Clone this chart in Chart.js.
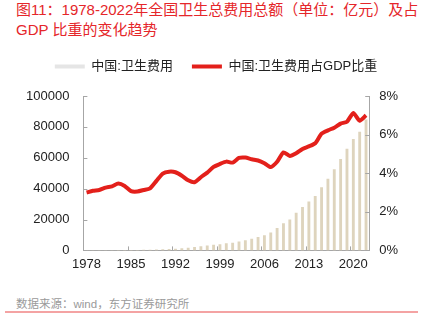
<!DOCTYPE html>
<html>
<head>
<meta charset="utf-8">
<script src="https://cdn.jsdelivr.net/npm/chart.js@4"></script>
<style>
  body { margin: 0; width: 427px; height: 328px; background: #fff; position: relative; overflow: hidden;
         font-family: "Liberation Sans", "Noto Sans CJK SC", sans-serif; }
  #title { position: absolute; left: 16px; top: 0px; color: #e5262a; font-size: 15px; line-height: 20px; white-space: nowrap; }
  #wrap { position: absolute; left: 0; top: 41px; width: 427px; height: 237px; }
  #source { position: absolute; left: 16px; top: 295px; color: #9a9a9a; font-size: 11.5px; white-space: nowrap; }
  #rule { position: absolute; left: 5px; top: 311px; width: 413px; height: 2px; background: #f4a3a3; }
</style>
</head>
<body>
<div id="title">图11：1978-2022年全国卫生总费用总额（单位：亿元）及占<br>GDP 比重的变化趋势</div>
<div id="wrap"><canvas id="chart"></canvas></div>
<div id="source">数据来源：wind，东方证券研究所</div>
<div id="rule"></div>
<script>
// 年份
const years = [];
for (let y = 1978; y <= 2022; y++) years.push(String(y));

// 卫生总费用（亿元）
const healthSpend = [
  110, 126, 143, 160, 178, 207, 242, 279, 316, 380,
  488, 616, 747, 893, 1097, 1378, 1761, 2155, 2709, 3197,
  3679, 4048, 4587, 5026, 5790, 6584, 7590, 8660, 9843, 11574,
  14535, 17542, 19980, 24346, 28119, 31669, 35312, 40975, 46345, 52598,
  59122, 65841, 72175, 76845, 84847
];

// 卫生费用占GDP比重（%）
const gdpShare = [
  3.00, 3.09, 3.13, 3.25, 3.32, 3.46, 3.34, 3.07, 3.05, 3.13,
  3.22, 3.60, 3.98, 4.08, 4.05, 3.87, 3.63, 3.53, 3.79, 4.03,
  4.33, 4.48, 4.60, 4.55, 4.79, 4.81, 4.72, 4.66, 4.52, 4.32,
  4.59, 5.08, 4.89, 5.03, 5.26, 5.39, 5.55, 6.05, 6.22, 6.36,
  6.57, 6.67, 7.12, 6.72, 7.00
];

const leftTicks = [0, 20000, 40000, 60000, 80000, 100000];
const rightTicks = [0, 2, 4, 6, 8];

const axisColor = '#a6a6a6';
const tickFont = { family: '"Liberation Sans", sans-serif', size: 13 };

// 刻度线画在坐标轴内侧
const innerTicks = {
  id: 'innerTicks',
  afterDatasetsDraw(chart) {
    const { ctx, chartArea, scales } = chart;
    ctx.save();
    ctx.strokeStyle = axisColor;
    ctx.lineWidth = 1;
    ctx.beginPath();
    leftTicks.forEach(v => {
      const y = Math.round(scales.y.getPixelForValue(v)) + 0.5;
      ctx.moveTo(chartArea.left, y); ctx.lineTo(chartArea.left + 4, y);
    });
    rightTicks.forEach(v => {
      const y = Math.round(scales.y1.getPixelForValue(v)) + 0.5;
      ctx.moveTo(chartArea.right, y); ctx.lineTo(chartArea.right - 4, y);
    });
    const step = (chartArea.right - chartArea.left) / years.length;
    years.forEach((lab, i) => {
      if (i % 7 !== 0 || i === 0) return;
      const x = Math.round(chartArea.left + i * step) + 0.5;
      ctx.moveTo(x, chartArea.bottom); ctx.lineTo(x, chartArea.bottom - 4);
    });
    ctx.stroke();
    ctx.restore();
  }
};

// 图例和绘图区之间留出空隙，图例稍微右移
const legendGap = {
  id: 'legendGap',
  beforeInit(chart) {
    const origFit = chart.legend.fit;
    chart.legend.fit = function () {
      origFit.bind(chart.legend)();
      this.height += 13;
    };
  },
  afterLayout(chart) {
    chart.legend.left += 6;
    chart.legend.right += 6;
  }
};

new Chart(document.getElementById('chart'), {
  data: {
    labels: years,
    datasets: [
      {
        type: 'line',
        label: '中国:卫生费用占GDP比重',
        data: gdpShare,
        yAxisID: 'y1',
        borderColor: '#e3201b',
        backgroundColor: '#e3201b',
        borderWidth: 4,
        pointRadius: 0,
        tension: 0.2,
        order: 0
      },
      {
        type: 'bar',
        label: '中国:卫生费用',
        data: healthSpend,
        yAxisID: 'y',
        backgroundColor: '#ded4bd',
        barPercentage: 0.45,
        categoryPercentage: 1,
        order: 1
      }
    ]
  },
  options: {
    responsive: true,
    maintainAspectRatio: false,
    animation: false,
    layout: { padding: { left: 12, right: 19, top: 0, bottom: 0 } },
    plugins: {
      legend: {
        reverse: true,
        labels: {
          font: { family: '"Liberation Sans", "Noto Sans CJK SC", sans-serif', size: 13 },
          color: '#222',
          boxWidth: 30,
          boxHeight: 4,
          padding: 19,
          generateLabels(chart) {
            const items = Chart.defaults.plugins.legend.labels.generateLabels(chart);
            items.forEach(it => { it.lineWidth = 0; it.fillStyle = it.strokeStyle; });
            return items;
          }
        }
      },
      tooltip: { enabled: false }
    },
    scales: {
      x: {
        offset: true,
        grid: { display: false, drawTicks: false, offset: true },
        border: { color: axisColor },
        ticks: {
          autoSkip: false,
          maxRotation: 0,
          padding: 6,
          color: '#222',
          font: tickFont,
          callback: (v, i) => (i % 7 === 0 ? years[i] : '')
        }
      },
      y: {
        position: 'left',
        min: 0,
        max: 100000,
        afterBuildTicks: s => { s.ticks = leftTicks.map(v => ({ value: v })); },
        grid: { display: false, drawTicks: false },
        border: { color: axisColor },
        ticks: { padding: 14, color: '#222', font: tickFont, callback: v => String(v) }
      },
      y1: {
        position: 'right',
        min: 0,
        max: 8,
        afterBuildTicks: s => { s.ticks = rightTicks.map(v => ({ value: v })); },
        grid: { display: false, drawTicks: false },
        border: { color: axisColor },
        ticks: { padding: 10, color: '#222', font: tickFont, callback: v => v + '%' }
      }
    }
  },
  plugins: [innerTicks, legendGap]
});
</script>
</body>
</html>
